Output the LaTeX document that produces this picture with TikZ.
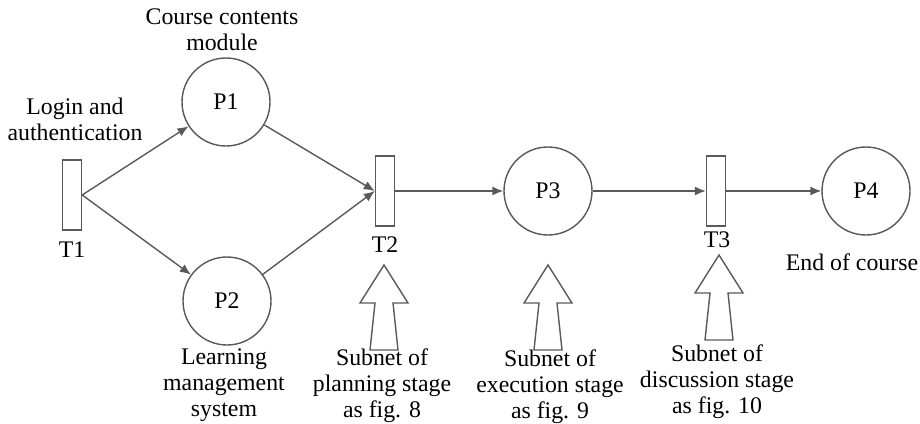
\documentclass[tikz,border=0pt]{standalone}
\usepackage{fontspec}
\setmainfont{Liberation Serif}
\usetikzlibrary{arrows.meta}

\begin{document}
\begin{tikzpicture}[x=0.5pt,y=-0.5pt,
  place/.style={circle,draw=netgray,line width=0.7pt,minimum size=44pt,inner sep=0pt,font=\fontsize{11.9}{13}\selectfont},
  trans/.style={rectangle,draw=netgray,line width=0.7pt,minimum width=9.5pt,minimum height=35pt,inner sep=0pt},
  flow/.style={draw=netgray,line width=0.7pt,-{Latex[length=5.5pt,width=4.5pt]}},
  note/.style={align=center,inner sep=0pt,font=\fontsize{11.9}{13}\selectfont},
  subnetarrow/.pic={
    \draw[netgray,line width=0.7pt,line join=miter]
      (0,0) -- (24,38) -- (9,38) -- (14,85) -- (-14,85) -- (-9,38) -- (-24,38) -- cycle;
  }]

% Define the colors
\colorlet{netgray}{black!65}

\useasboundingbox (0,0) rectangle (920,423);

% Draw the transitions
\node[trans] (T1) at (72,195) {};
\node[trans] (T2) at (385,191) {};
\node[trans] (T3) at (716,191) {};

% Draw the places
\node[place] (P1) at (226,102) {P1};
\node[place] (P2) at (227,301) {P2};
\node[place] (P3) at (548,191) {P3};
\node[place] (P4) at (866,191) {P4};

% Draw the arcs
\draw[flow] (T1.east) -- (P1);
\draw[flow] (T1.east) -- (P2);
\draw[flow] (P1) -- (T2.west);
\draw[flow] (P2) -- (T2.west);
\draw[flow] (T2) -- (P3);
\draw[flow] (P3) -- (T3);
\draw[flow] (T3) -- (P4);

% Draw the subnet arrows
\pic (S2) at (384,265) {subnetarrow};
\pic (S3) at (548,265) {subnetarrow};
\pic (S4) at (719,255) {subnetarrow};

% Draw the labels
\node[note] (T1text) at (72,250) {T1};
\node[note] (T2text) at (385,245) {T2};
\node[note] (T3text) at (717,240) {T3};
\node[note] (P1text) at (222,30) {Course contents\\module};
\node[note] (logintext) at (75,119) {Login and\\authentication};
\node[note] (P2text) at (224,385) {Learning\\management\\system};
\node[note] (P4text) at (852,262) {End of course};
\node[note] (S2text) at (382,386) {Subnet of\\planning stage\\as fig. 8};
\node[note] (S3text) at (550,387) {Subnet of\\execution stage\\as fig. 9};
\node[note] (S4text) at (717,382) {Subnet of\\discussion stage\\as fig. 10};

\end{tikzpicture}
\end{document}
